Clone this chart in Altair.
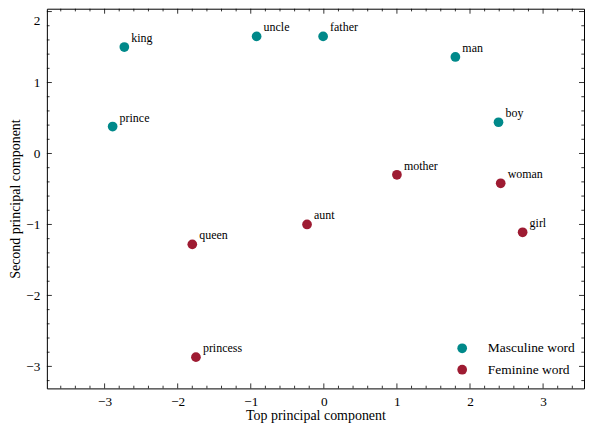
import altair as alt
import pandas as pd

words = ["king", "uncle", "prince", "father", "man", "boy",
         "mother", "woman", "aunt", "girl", "queen", "princess"]
xs = [-2.73, -0.92, -2.89, -0.01, 1.80, 2.39, 1.00, 2.42, -0.23, 2.72, -1.80, -1.75]
ys = [1.50, 1.65, 0.38, 1.65, 1.36, 0.44, -0.30, -0.42, -1.00, -1.11, -1.28, -2.87]
genders = ["Masculine word"] * 6 + ["Feminine word"] * 6

x_major = [-3, -2, -1, 0, 1, 2, 3]
y_major = [-3, -2, -1, 0, 1, 2]
x_minor = [-3.6, -3.4, -3.2, -2.8, -2.6, -2.4, -2.2, -1.8, -1.6, -1.4, -1.2,
           -0.8, -0.6, -0.4, -0.2, 0.2, 0.4, 0.6, 0.8, 1.2, 1.4, 1.6, 1.8,
           2.2, 2.4, 2.6, 2.8, 3.2, 3.4]
y_minor = [-3.2, -2.8, -2.6, -2.4, -2.2, -1.8, -1.6, -1.4, -1.2, -0.8, -0.6,
           -0.4, -0.2, 0.2, 0.4, 0.6, 0.8, 1.2, 1.4, 1.6, 1.8]

X_DOM = [-3.79, 3.56]
Y_DOM = [-3.31, 2.04]
W, H = 539, 381
FONT = "Liberation Serif"
TEAL = "#00898A"
RED = "#9E1B32"

df = pd.DataFrame({"x": xs, "y": ys, "word": words, "gender": genders})
xsc = alt.Scale(domain=X_DOM, nice=False, zero=False)
ysc = alt.Scale(domain=Y_DOM, nice=False, zero=False)

points = alt.Chart(df).mark_circle(size=95, opacity=1).encode(
    x=alt.X("x:Q", scale=xsc, axis=alt.Axis(
        title="Top principal component", values=x_major, format="d", ticks=False, grid=False,
        domain=False, labelFontSize=13.3, labelFont=FONT, titleFont=FONT,
        titleFontSize=14, titleFontWeight="normal", labelColor="black",
        titleColor="black", labelPadding=6, titleY=31, titleBaseline="alphabetic")),
    y=alt.Y("y:Q", scale=ysc, axis=alt.Axis(
        title="Second principal component", values=y_major, format="d", ticks=False, grid=False,
        domain=False, labelFontSize=13.3, labelFont=FONT, titleFont=FONT,
        titleFontSize=14, titleFontWeight="normal", labelColor="black",
        titleColor="black", labelPadding=7, titlePadding=3, labelFlush=5,
        labelFlushOffset=-2)),
    color=alt.Color("gender:N",
                    scale=alt.Scale(domain=["Masculine word", "Feminine word"], range=[TEAL, RED]),
                    legend=alt.Legend(title=None, orient="none", legendX=410, legendY=334,
                                      symbolSize=95, symbolType="circle", labelFont=FONT,
                                      labelFontSize=13.5, labelColor="black",
                                      labelOffset=19, rowPadding=6.5, symbolStrokeWidth=0,
                                      symbolOpacity=1)),
)

labels = alt.Chart(df).mark_text(align="left", baseline="alphabetic", dx=7, dy=-5,
                                 font=FONT, fontSize=12, color="black").encode(
    x=alt.X("x:Q", scale=xsc), y=alt.Y("y:Q", scale=ysc), text="word:N")

xt = pd.DataFrame({"v": x_major})
xm = pd.DataFrame({"v": x_minor})
yt = pd.DataFrame({"v": y_major})
ym = pd.DataFrame({"v": y_minor})

def xticks(d, ln):
    b = alt.Chart(d).mark_rule(color="black", strokeWidth=0.8)
    return (b.encode(x=alt.X("v:Q", scale=xsc), y=alt.value(H), y2=alt.value(H - ln)) +
            b.encode(x=alt.X("v:Q", scale=xsc), y=alt.value(0), y2=alt.value(ln)))

def yticks(d, ln):
    b = alt.Chart(d).mark_rule(color="black", strokeWidth=0.8)
    return (b.encode(y=alt.Y("v:Q", scale=ysc), x=alt.value(0), x2=alt.value(ln)) +
            b.encode(y=alt.Y("v:Q", scale=ysc), x=alt.value(W), x2=alt.value(W - ln)))

chart = alt.layer(
    points, labels,
    xticks(xt, 5), xticks(xm, 2.7), yticks(yt, 5), yticks(ym, 2.7),
).properties(
    width=W, height=H, padding={"left": 39, "top": 0, "right": 2, "bottom": 34},
    autosize=alt.AutoSizeParams(type="none"), background="white",
).configure_view(stroke="black", strokeWidth=1)

chart.save("out.html", embed_options={"renderer": "svg", "actions": False})
